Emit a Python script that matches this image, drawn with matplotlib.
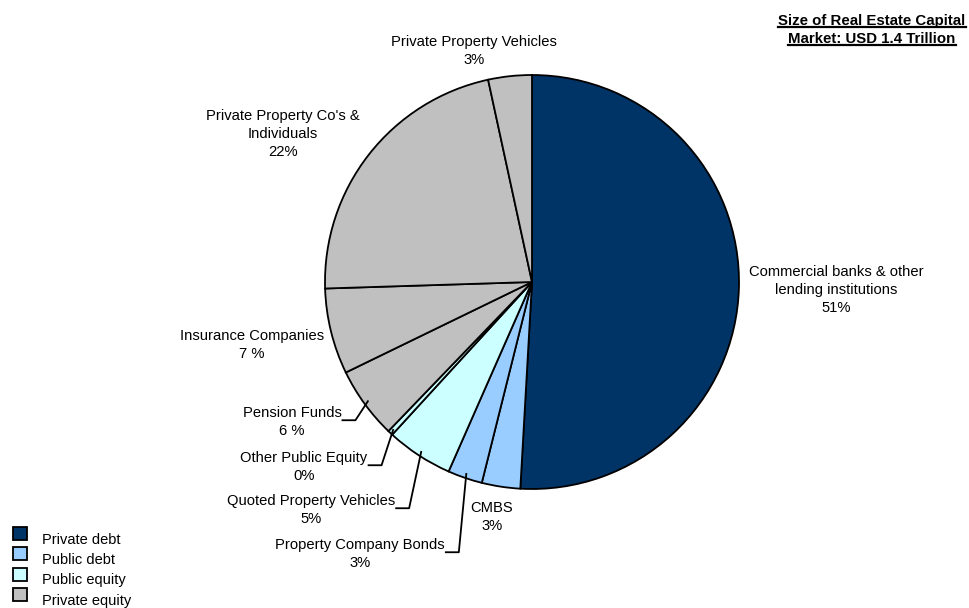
import matplotlib
matplotlib.use("Agg")
import matplotlib.pyplot as plt
from matplotlib.patches import Rectangle
from matplotlib.lines import Line2D
from matplotlib.transforms import IdentityTransform
import numpy as np

plt.rcParams['font.family'] = ['Liberation Sans', 'DejaVu Sans']

# real estate capital market by source, clockwise from 12 o'clock
sources = ["Commercial banks & other\nlending institutions", "CMBS",
           "Property Company Bonds", "Quoted Property Vehicles",
           "Other Public Equity", "Pension Funds", "Insurance Companies",
           "Private Property Co's &\nIndividuals", "Private Property Vehicles"]
shares = [50.9, 3.0, 2.7, 5.2, 0.4, 5.6, 6.7, 22.1, 3.4]
source_group = ["Private debt", "Public debt", "Public debt", "Public equity",
                "Public equity", "Private equity", "Private equity",
                "Private equity", "Private equity"]
pct_sep = ["", "", "", "", "", " ", " ", "", ""]

groups = ["Private debt", "Public debt", "Public equity", "Private equity"]
group_colors = ["#003366", "#99CCFF", "#CCFFFF", "#C0C0C0"]

title_lines = ["Size of Real Estate Capital", "Market: USD 1.4 Trillion"]

W, H = 969, 608
fig = plt.figure(figsize=(W / 100, H / 100), dpi=100)

# pie centre and radius in pixels
cx, cy, r = 532, 282, 207
ax = fig.add_axes([(cx - r) / W, (H - cy - r) / H, 2 * r / W, 2 * r / H])
col = dict(zip(groups, group_colors))
wedges, _ = ax.pie(shares, colors=[col[g] for g in source_group],
                   startangle=90, counterclock=False, radius=1,
                   wedgeprops=dict(edgecolor="black", linewidth=1.3))
for w in wedges:
    w.set_clip_on(False)
ax.set_xlim(-1, 1)
ax.set_ylim(-1, 1)
ax.axis("off")

# label block centres (pixels from top-left) and whether a leader is drawn
label_pos = [(836, 290), (492, 517), (360, 554), (311, 510), (304, 467),
             (292, 422), (252, 345), (283, 134), (474, 51)]
has_leader = [False, False, True, True, True, True, False, False, False]

def fx(px):
    return px / W

def fy(py):
    return 1 - py / H

texts = []
for name, val, sep, (px, py) in zip(sources, shares, pct_sep, label_pos):
    t = fig.text(fx(px), fy(py), f"{name}\n{val:.0f}{sep}%", ha="center",
                 va="center", multialignment="center", fontsize=10.6,
                 linespacing=1.32, color="black")
    texts.append(t)

fig.canvas.draw()
rend = fig.canvas.get_renderer()
for w, t, lead in zip(wedges, texts, has_leader):
    if not lead:
        continue
    mid = np.deg2rad((w.theta1 + w.theta2) / 2)
    ex, ey = ax.transData.transform((0.98 * np.cos(mid), 0.98 * np.sin(mid)))
    bb = t.get_window_extent(rend)
    ys = bb.y1 - 14
    fig.add_artist(Line2D([bb.x1 + 1, bb.x1 + 14, ex], [ys, ys, ey],
                          transform=IdentityTransform(), color="black",
                          linewidth=1.3))

# underlined bold title in the top-right corner
for line, base in zip(title_lines, [25, 43]):
    t = fig.text(fx(872), fy(base), line, ha="center", va="baseline",
                 fontsize=10.8, fontweight="bold", color="black")
    fig.canvas.draw()
    bb = t.get_window_extent(rend)
    yb = (H - base) - 1.5
    fig.add_artist(Line2D([bb.x0, bb.x1], [yb, yb],
                          transform=IdentityTransform(), color="black",
                          linewidth=1.6))

# legend
for i, (g, c) in enumerate(zip(groups, group_colors)):
    top = 527 + i * 20.4
    fig.add_artist(Rectangle((fx(13), fy(top + 13)), 14 / W, 13 / H,
                             transform=fig.transFigure, facecolor=c,
                             edgecolor="black", linewidth=1.3))
    fig.text(fx(42), fy(top + 12.5), g, ha="left", va="center",
             fontsize=10.5, color="black")

fig.savefig("out.png", dpi=100)
plt.close(fig)
